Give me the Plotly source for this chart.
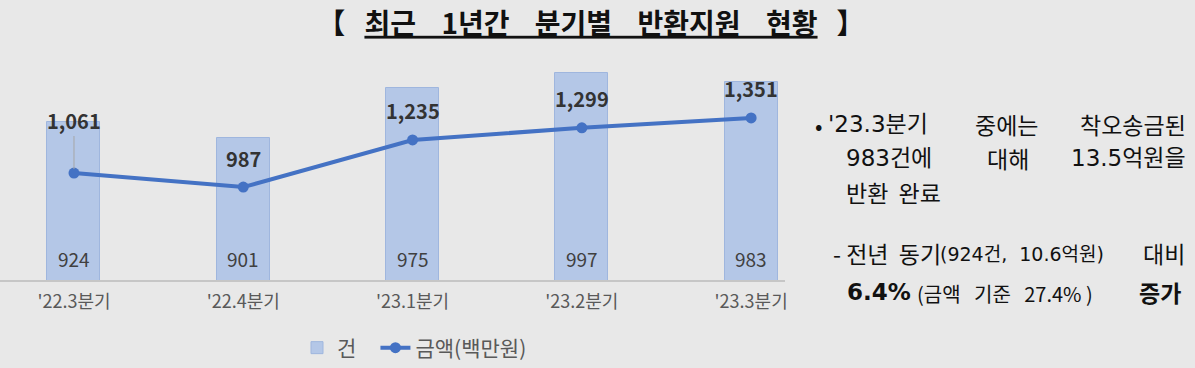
import plotly.graph_objects as go

quarters = ["'22.3분기", "'22.4분기", "'23.1분기", "'23.2분기", "'23.3분기"]
counts = [924, 901, 975, 997, 983]
amounts = [1061, 987, 1235, 1299, 1351]
count_labels = ["924", "901", "975", "997", "983"]
amount_labels = ["1,061", "987", "1,235", "1,299", "1,351"]

W, H = 1195, 368
L, R, T, B = 0, 410, 60, 88
PW, PH = W - L - R, H - T - B
FONT = "Noto Sans CJK KR"
WIDE = "DejaVu Sans, Noto Sans CJK KR"
BG = "#e8e8e8"
BLUE = "#4472c4"
BARC = "#b4c7e7"


def px(x):
    return (x - L) / PW


def py(y):
    return (H - B - y) / PH


fig = go.Figure()
fig.add_trace(go.Bar(
    x=quarters, y=counts, name="건\u00a0\u00a0\u00a0", width=0.313,
    marker=dict(color=BARC, line=dict(color="#9fb6de", width=1)),
    hoverinfo="skip",
))
fig.add_trace(go.Scatter(
    x=quarters, y=amounts, name="금액(백만원)", yaxis="y2", mode="lines+markers",
    line=dict(color=BLUE, width=4), marker=dict(color=BLUE, size=11),
    hoverinfo="skip",
))

ann = []
for q, t in zip(quarters, count_labels):
    ann.append(dict(x=q, xref="x", y=py(258), yref="paper", text=t, showarrow=False,
                    yanchor="middle",
                    font=dict(family=FONT, size=19, color="#404040")))
for i, (q, v, t) in enumerate(zip(quarters, amounts, amount_labels)):
    if i == 0:
        ann.append(dict(x=q, xref="x", y=v, yref="y2", text="<b>" + t + "</b>",
                        showarrow=True, arrowhead=0, arrowwidth=1, arrowcolor="#a6a6a6",
                        ax=0, ay=-53, standoff=4,
                        font=dict(family=FONT, size=20, color="#333333")))
    else:
        ann.append(dict(x=q, xref="x", y=v, yref="y2", text="<b>" + t + "</b>",
                        showarrow=False, yshift=29,
                        font=dict(family=FONT, size=20, color="#333333")))

TXT = "#111111"


def add_text(x, y, text, size=23, anchor="left", family=FONT):
    ann.append(dict(x=px(x), y=py(y), xref="paper", yref="paper", text=text,
                    showarrow=False, xanchor=anchor, yanchor="middle",
                    font=dict(family=family, size=size, color=TXT)))


add_text(813, 124, "•", 22)
add_text(826, 124, "'23.3분기", family=WIDE)
add_text(1006, 124, "중에는", anchor="center")
add_text(1188, 124, "착오송금된", anchor="right")
add_text(844, 158, "983건에", family=WIDE)
add_text(1008, 158, "대해", anchor="center")
add_text(1188, 158, "13.5억원을", anchor="right", family=WIDE)
add_text(844, 192, "반환\u00a0\u00a0완료")
add_text(831, 253, "-\u00a0전년\u00a0\u00a0동기")
add_text(938, 254, "(924건,\u00a0\u00a010.6억원)", 19, family=WIDE)
add_text(1187, 253, "대비", anchor="right")
add_text(845, 292, "<b>6.4%</b>", family=WIDE)
add_text(915, 293, "(금액\u00a0\u00a0\u00a0기준\u00a0\u00a0\u00a027.4%\u00a0)", 20)
add_text(1183, 292, "<b>증가</b>", anchor="right")

SP = "\u00a0" * 4
SB = "\u00a0" * 3
title_txt = ("<b>【" + SB + "<span style='text-decoration:underline'>최근" + SP + "1년간" + SP
             + "분기별" + SP + "반환지원" + SP + "현황</span>" + SB + "】</b>")

fig.update_layout(
    width=W, height=H,
    margin=dict(l=L, r=R, t=T, b=B, autoexpand=False),
    paper_bgcolor=BG, plot_bgcolor=BG,
    font=dict(family=FONT),
    title=dict(
        text=title_txt,
        xref="container", yref="container", x=591 / W, xanchor="center",
        y=1 - 24 / H, yanchor="middle",
        font=dict(family=FONT, size=28, color="#111111"),
    ),
    xaxis=dict(range=[-0.437, 4.2], showgrid=False, showline=True, linecolor="#c6c6c6",
               linewidth=2, ticks="", ticklabelstandoff=4,
               tickfont=dict(family=FONT, size=18, color="#595959"),
               zeroline=False),
    yaxis=dict(range=[691, 691 + 220 / 0.677], showgrid=False, visible=False),
    yaxis2=dict(range=[498, 1656], overlaying="y", side="right", showgrid=False, visible=False),
    showlegend=True,
    legend=dict(orientation="h", xref="container", yref="container",
                x=297 / W, xanchor="left", y=(H - 348) / H, yanchor="middle",
                font=dict(family=FONT, size=21, color="#595959"), bgcolor="rgba(0,0,0,0)"),
    annotations=ann,
    bargap=0,
)

fig.write_html("out.html", config={"displayModeBar": False},
               post_script="document.body.style.margin='0';")
